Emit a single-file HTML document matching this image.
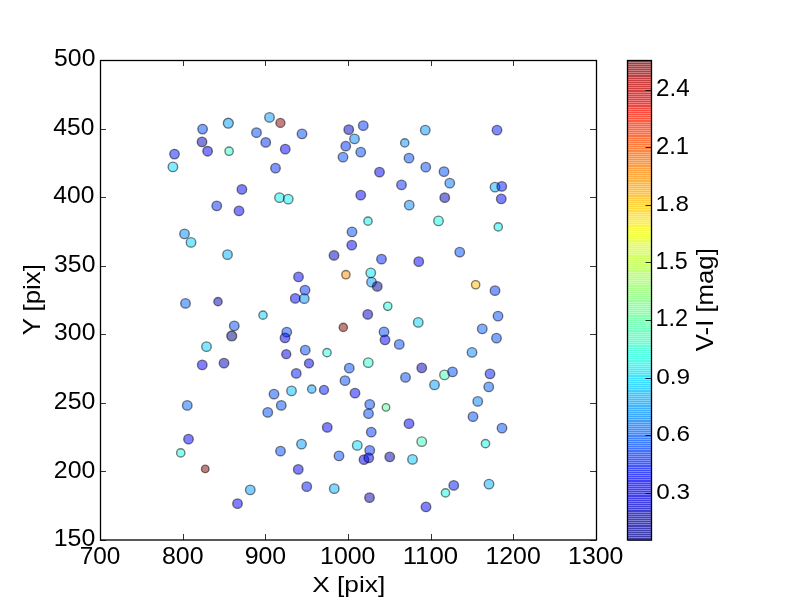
<!DOCTYPE html><html><head><meta charset="utf-8"><style>html,body{margin:0;padding:0;background:#fff;width:800px;height:600px;overflow:hidden}svg{display:block;will-change:transform}text{font-family:"Liberation Sans",sans-serif;fill:#000}</style></head><body>
<svg width="800" height="600" viewBox="0 0 800 600">
<rect x="0" y="0" width="800" height="600" fill="#fff"/>
<g fill-opacity="0.50" stroke="#000" stroke-opacity="0.50" stroke-width="1.39">
<circle cx="174.50" cy="154.10" r="4.75" fill="#0019ff"/><circle cx="172.90" cy="166.90" r="4.75" fill="#00dbff"/><circle cx="202.60" cy="129.10" r="4.75" fill="#004dff"/><circle cx="202.00" cy="141.90" r="4.75" fill="#0000b9"/><circle cx="207.60" cy="151.20" r="4.75" fill="#0000ff"/><circle cx="228.30" cy="123.20" r="4.96" fill="#009eff"/><circle cx="229.10" cy="151.20" r="4.15" fill="#29ffce"/><circle cx="241.90" cy="189.40" r="4.75" fill="#0000f3"/><circle cx="269.50" cy="117.40" r="4.75" fill="#009eff"/><circle cx="280.40" cy="122.90" r="4.50" fill="#8b0000"/><circle cx="256.50" cy="132.65" r="4.75" fill="#004dff"/><circle cx="302.00" cy="133.90" r="4.75" fill="#004dff"/><circle cx="265.75" cy="142.40" r="4.75" fill="#002eff"/><circle cx="285.25" cy="149.15" r="4.75" fill="#0000ff"/><circle cx="275.50" cy="168.15" r="4.75" fill="#002eff"/><circle cx="279.50" cy="197.65" r="4.75" fill="#08f0ef"/><circle cx="288.25" cy="199.15" r="4.75" fill="#08f0ef"/><circle cx="348.75" cy="129.65" r="4.75" fill="#0000d1"/><circle cx="363.25" cy="125.65" r="4.75" fill="#0038ff"/><circle cx="354.50" cy="138.90" r="4.75" fill="#008aff"/><circle cx="345.75" cy="146.15" r="4.75" fill="#002eff"/><circle cx="360.75" cy="152.15" r="4.75" fill="#004dff"/><circle cx="343.00" cy="157.15" r="4.75" fill="#004dff"/><circle cx="379.50" cy="172.15" r="4.75" fill="#0000f3"/><circle cx="360.75" cy="195.15" r="4.75" fill="#0000ff"/><circle cx="425.25" cy="130.15" r="4.75" fill="#0094ff"/><circle cx="404.75" cy="142.90" r="4.15" fill="#0094ff"/><circle cx="409.00" cy="158.15" r="4.75" fill="#004dff"/><circle cx="425.75" cy="167.15" r="4.75" fill="#004dff"/><circle cx="444.00" cy="171.65" r="4.75" fill="#004dff"/><circle cx="449.75" cy="183.15" r="4.75" fill="#0075ff"/><circle cx="401.50" cy="184.90" r="4.75" fill="#002eff"/><circle cx="444.75" cy="197.65" r="4.75" fill="#0000b9"/><circle cx="497.00" cy="130.15" r="4.75" fill="#0019ff"/><circle cx="495.00" cy="187.15" r="4.75" fill="#00b2ff"/><circle cx="501.75" cy="186.40" r="4.75" fill="#0019ff"/><circle cx="501.25" cy="198.90" r="4.75" fill="#0005ff"/><circle cx="216.75" cy="205.90" r="4.75" fill="#002eff"/><circle cx="239.00" cy="210.90" r="4.75" fill="#0000ff"/><circle cx="184.50" cy="233.90" r="4.75" fill="#008aff"/><circle cx="191.00" cy="242.40" r="4.75" fill="#00d1ff"/><circle cx="227.50" cy="254.65" r="4.75" fill="#00b2ff"/><circle cx="185.50" cy="303.40" r="4.75" fill="#0061ff"/><circle cx="218.00" cy="301.65" r="4.15" fill="#0000b9"/><circle cx="234.25" cy="325.90" r="4.75" fill="#004dff"/><circle cx="231.75" cy="335.90" r="4.96" fill="#000080"/><circle cx="368.00" cy="221.15" r="4.15" fill="#08f0ef"/><circle cx="352.00" cy="231.90" r="4.75" fill="#004dff"/><circle cx="351.75" cy="245.15" r="4.75" fill="#0005ff"/><circle cx="334.00" cy="255.40" r="4.75" fill="#0000c5"/><circle cx="381.50" cy="259.15" r="4.75" fill="#0024ff"/><circle cx="298.50" cy="276.90" r="4.75" fill="#0005ff"/><circle cx="345.90" cy="274.70" r="4.15" fill="#ff8e00"/><circle cx="370.75" cy="272.90" r="4.75" fill="#00e5f7"/><circle cx="371.50" cy="282.15" r="4.75" fill="#009eff"/><circle cx="377.25" cy="286.40" r="4.75" fill="#0000a2"/><circle cx="305.00" cy="290.15" r="4.75" fill="#002eff"/><circle cx="295.25" cy="298.40" r="4.75" fill="#0005ff"/><circle cx="304.25" cy="298.65" r="4.75" fill="#0094ff"/><circle cx="263.00" cy="315.15" r="4.15" fill="#00d1ff"/><circle cx="367.75" cy="314.40" r="4.75" fill="#0000d1"/><circle cx="343.30" cy="327.40" r="4.15" fill="#8b0000"/><circle cx="286.75" cy="332.15" r="4.75" fill="#004dff"/><circle cx="285.00" cy="337.90" r="4.75" fill="#0000f3"/><circle cx="409.25" cy="205.15" r="4.75" fill="#008aff"/><circle cx="438.50" cy="220.90" r="4.75" fill="#10fae6"/><circle cx="498.25" cy="226.90" r="4.15" fill="#08f0ef"/><circle cx="418.75" cy="261.65" r="4.75" fill="#0000ff"/><circle cx="459.75" cy="252.15" r="4.75" fill="#004dff"/><circle cx="475.65" cy="284.75" r="4.15" fill="#ffbd00"/><circle cx="495.00" cy="290.65" r="4.75" fill="#0038ff"/><circle cx="387.75" cy="306.30" r="4.15" fill="#19ffde"/><circle cx="418.25" cy="322.40" r="4.75" fill="#00d1ff"/><circle cx="498.00" cy="316.15" r="4.75" fill="#004dff"/><circle cx="482.25" cy="328.90" r="4.75" fill="#0061ff"/><circle cx="496.50" cy="338.15" r="4.75" fill="#004dff"/><circle cx="384.00" cy="331.90" r="4.75" fill="#004dff"/><circle cx="385.00" cy="339.90" r="4.75" fill="#0000ff"/><circle cx="206.50" cy="346.65" r="4.75" fill="#00d1ff"/><circle cx="202.25" cy="364.90" r="4.75" fill="#0000ff"/><circle cx="224.00" cy="363.15" r="4.75" fill="#0000c5"/><circle cx="187.25" cy="405.40" r="4.75" fill="#006bff"/><circle cx="188.50" cy="439.15" r="4.75" fill="#0000ff"/><circle cx="180.75" cy="452.90" r="4.15" fill="#19ffde"/><circle cx="205.25" cy="468.90" r="3.76" fill="#8b0000"/><circle cx="305.25" cy="350.15" r="4.75" fill="#004dff"/><circle cx="327.00" cy="352.65" r="4.15" fill="#19ffde"/><circle cx="286.25" cy="354.15" r="4.50" fill="#0000e8"/><circle cx="309.00" cy="363.40" r="4.50" fill="#0000e8"/><circle cx="368.25" cy="362.65" r="4.75" fill="#29ffce"/><circle cx="349.25" cy="368.15" r="4.75" fill="#004dff"/><circle cx="296.25" cy="373.40" r="4.75" fill="#0019ff"/><circle cx="345.00" cy="380.65" r="4.75" fill="#004dff"/><circle cx="291.50" cy="390.90" r="4.75" fill="#00bdff"/><circle cx="311.75" cy="389.15" r="4.15" fill="#009eff"/><circle cx="324.00" cy="389.90" r="4.50" fill="#0019ff"/><circle cx="274.00" cy="394.15" r="4.75" fill="#004dff"/><circle cx="355.00" cy="393.15" r="4.75" fill="#0005ff"/><circle cx="281.25" cy="405.40" r="4.75" fill="#004dff"/><circle cx="267.75" cy="412.40" r="4.75" fill="#004dff"/><circle cx="369.75" cy="404.40" r="4.75" fill="#004dff"/><circle cx="368.50" cy="413.65" r="4.75" fill="#004dff"/><circle cx="327.25" cy="427.40" r="4.75" fill="#0000ff"/><circle cx="371.25" cy="432.15" r="4.75" fill="#0038ff"/><circle cx="301.50" cy="444.15" r="4.75" fill="#009eff"/><circle cx="280.50" cy="451.15" r="4.75" fill="#004dff"/><circle cx="357.25" cy="445.40" r="4.75" fill="#00dbff"/><circle cx="339.00" cy="455.90" r="4.75" fill="#004dff"/><circle cx="369.75" cy="450.40" r="4.75" fill="#0038ff"/><circle cx="364.00" cy="459.65" r="4.75" fill="#0000ff"/><circle cx="368.75" cy="457.90" r="4.75" fill="#0000f3"/><circle cx="298.25" cy="469.40" r="4.75" fill="#0000ff"/><circle cx="399.25" cy="344.40" r="4.75" fill="#004dff"/><circle cx="472.00" cy="352.40" r="4.75" fill="#008aff"/><circle cx="421.75" cy="367.90" r="4.75" fill="#0000c5"/><circle cx="405.50" cy="377.40" r="4.75" fill="#004dff"/><circle cx="444.50" cy="374.90" r="4.75" fill="#42ffb5"/><circle cx="452.50" cy="371.90" r="4.75" fill="#004dff"/><circle cx="434.50" cy="384.90" r="4.75" fill="#009eff"/><circle cx="490.00" cy="373.90" r="4.75" fill="#0019ff"/><circle cx="488.75" cy="386.90" r="4.75" fill="#0061ff"/><circle cx="386.00" cy="407.40" r="3.76" fill="#5aff9c"/><circle cx="477.75" cy="401.40" r="4.75" fill="#0080ff"/><circle cx="473.00" cy="416.65" r="4.75" fill="#004dff"/><circle cx="502.00" cy="428.15" r="4.75" fill="#004dff"/><circle cx="409.00" cy="423.65" r="4.75" fill="#0000ff"/><circle cx="421.75" cy="441.65" r="4.75" fill="#3affbd"/><circle cx="485.50" cy="443.65" r="4.15" fill="#10fae6"/><circle cx="389.75" cy="456.90" r="4.75" fill="#0000ae"/><circle cx="412.50" cy="459.40" r="4.75" fill="#00c7ff"/><circle cx="237.50" cy="503.65" r="4.75" fill="#0000ff"/><circle cx="250.25" cy="489.90" r="4.75" fill="#009eff"/><circle cx="306.75" cy="486.65" r="4.75" fill="#0019ff"/><circle cx="334.25" cy="488.65" r="4.75" fill="#00b2ff"/><circle cx="369.50" cy="497.65" r="4.75" fill="#0000b9"/><circle cx="453.75" cy="485.40" r="4.75" fill="#0019ff"/><circle cx="445.50" cy="492.90" r="4.15" fill="#10fae6"/><circle cx="489.00" cy="484.15" r="4.75" fill="#00b2ff"/><circle cx="426.00" cy="506.90" r="4.75" fill="#0005ff"/>
</g>
<rect x="100.5" y="60.5" width="496" height="479.5" fill="none" stroke="#000" stroke-width="1.3"/>
<path d="M100.5 540V534M100.5 60V66M183.5 540V534M183.5 60V66M265.5 540V534M265.5 60V66M348.5 540V534M348.5 60V66M431.5 540V534M431.5 60V66M513.5 540V534M513.5 60V66M596.5 540V534M596.5 60V66M100 540.5H106M596 540.5H590M100 471.5H106M596 471.5H590M100 403.5H106M596 403.5H590M100 334.5H106M596 334.5H590M100 266.5H106M596 266.5H590M100 197.5H106M596 197.5H590M100 129.5H106M596 129.5H590M100 60.5H106M596 60.5H590" stroke="#000" stroke-width="0.8" fill="none"/>
<text transform="translate(53.73,546.12) scale(1.0348,1)" font-size="24.11">150</text>
<text transform="translate(53.85,477.55) scale(1.0329,1)" font-size="24.11">200</text>
<text transform="translate(53.85,408.98) scale(1.0329,1)" font-size="24.11">250</text>
<text transform="translate(54.11,340.40) scale(1.0264,1)" font-size="24.11">300</text>
<text transform="translate(54.11,271.83) scale(1.0264,1)" font-size="24.11">350</text>
<text transform="translate(53.28,203.26) scale(1.0206,1)" font-size="24.11">400</text>
<text transform="translate(53.28,134.69) scale(1.0206,1)" font-size="24.11">450</text>
<text transform="translate(54.11,66.12) scale(1.0264,1)" font-size="24.11">500</text>
<text transform="translate(79.73,563.76) scale(1.0177,1)" font-size="23.94">700</text>
<text transform="translate(162.00,563.76) scale(1.0408,1)" font-size="23.94">800</text>
<text transform="translate(244.66,563.76) scale(1.0408,1)" font-size="23.94">900</text>
<text transform="translate(320.08,563.76) scale(1.0392,1)" font-size="23.94">1000</text>
<text transform="translate(402.68,563.76) scale(1.0775,1)" font-size="23.94">1100</text>
<text transform="translate(485.42,563.76) scale(1.0392,1)" font-size="23.94">1200</text>
<text transform="translate(568.08,563.76) scale(1.0392,1)" font-size="23.94">1300</text>
<text transform="translate(312.24,591.92) scale(1.1542,1)" font-size="22.78">X [pix]</text>
<text transform="translate(39.76,335.34) rotate(-90) scale(1.0956,1)" font-size="23.53">Y [pix]</text>
<text transform="translate(712.65,351.13) rotate(-90) scale(1.1139,1)" font-size="23.10">V-I [mag]</text>
<g fill-opacity="0.50" shape-rendering="crispEdges"><rect x="627.50" y="537.625" width="24.00" height="2.875" fill="#000082"/><rect x="627.50" y="535.750" width="24.00" height="2.875" fill="#000086"/><rect x="627.50" y="533.875" width="24.00" height="2.875" fill="#00008b"/><rect x="627.50" y="532.000" width="24.00" height="2.875" fill="#00008f"/><rect x="627.50" y="530.125" width="24.00" height="2.875" fill="#000094"/><rect x="627.50" y="528.250" width="24.00" height="2.875" fill="#000098"/><rect x="627.50" y="526.375" width="24.00" height="2.875" fill="#00009d"/><rect x="627.50" y="524.500" width="24.00" height="2.875" fill="#0000a1"/><rect x="627.50" y="522.625" width="24.00" height="2.875" fill="#0000a6"/><rect x="627.50" y="520.750" width="24.00" height="2.875" fill="#0000ab"/><rect x="627.50" y="518.875" width="24.00" height="2.875" fill="#0000af"/><rect x="627.50" y="517.000" width="24.00" height="2.875" fill="#0000b4"/><rect x="627.50" y="515.125" width="24.00" height="2.875" fill="#0000b8"/><rect x="627.50" y="513.250" width="24.00" height="2.875" fill="#0000bd"/><rect x="627.50" y="511.375" width="24.00" height="2.875" fill="#0000c1"/><rect x="627.50" y="509.500" width="24.00" height="2.875" fill="#0000c6"/><rect x="627.50" y="507.625" width="24.00" height="2.875" fill="#0000ca"/><rect x="627.50" y="505.750" width="24.00" height="2.875" fill="#0000cf"/><rect x="627.50" y="503.875" width="24.00" height="2.875" fill="#0000d3"/><rect x="627.50" y="502.000" width="24.00" height="2.875" fill="#0000d8"/><rect x="627.50" y="500.125" width="24.00" height="2.875" fill="#0000dc"/><rect x="627.50" y="498.250" width="24.00" height="2.875" fill="#0000e1"/><rect x="627.50" y="496.375" width="24.00" height="2.875" fill="#0000e5"/><rect x="627.50" y="494.500" width="24.00" height="2.875" fill="#0000ea"/><rect x="627.50" y="492.625" width="24.00" height="2.875" fill="#0000ee"/><rect x="627.50" y="490.750" width="24.00" height="2.875" fill="#0000f3"/><rect x="627.50" y="488.875" width="24.00" height="2.875" fill="#0000f7"/><rect x="627.50" y="487.000" width="24.00" height="2.875" fill="#0000fc"/><rect x="627.50" y="485.125" width="24.00" height="2.875" fill="#0000ff"/><rect x="627.50" y="483.250" width="24.00" height="2.875" fill="#0000ff"/><rect x="627.50" y="481.375" width="24.00" height="2.875" fill="#0000ff"/><rect x="627.50" y="479.500" width="24.00" height="2.875" fill="#0000ff"/><rect x="627.50" y="477.625" width="24.00" height="2.875" fill="#0002ff"/><rect x="627.50" y="475.750" width="24.00" height="2.875" fill="#0006ff"/><rect x="627.50" y="473.875" width="24.00" height="2.875" fill="#000aff"/><rect x="627.50" y="472.000" width="24.00" height="2.875" fill="#000eff"/><rect x="627.50" y="470.125" width="24.00" height="2.875" fill="#0012ff"/><rect x="627.50" y="468.250" width="24.00" height="2.875" fill="#0016ff"/><rect x="627.50" y="466.375" width="24.00" height="2.875" fill="#001aff"/><rect x="627.50" y="464.500" width="24.00" height="2.875" fill="#001eff"/><rect x="627.50" y="462.625" width="24.00" height="2.875" fill="#0022ff"/><rect x="627.50" y="460.750" width="24.00" height="2.875" fill="#0026ff"/><rect x="627.50" y="458.875" width="24.00" height="2.875" fill="#002aff"/><rect x="627.50" y="457.000" width="24.00" height="2.875" fill="#002eff"/><rect x="627.50" y="455.125" width="24.00" height="2.875" fill="#0032ff"/><rect x="627.50" y="453.250" width="24.00" height="2.875" fill="#0036ff"/><rect x="627.50" y="451.375" width="24.00" height="2.875" fill="#003aff"/><rect x="627.50" y="449.500" width="24.00" height="2.875" fill="#003eff"/><rect x="627.50" y="447.625" width="24.00" height="2.875" fill="#0042ff"/><rect x="627.50" y="445.750" width="24.00" height="2.875" fill="#0046ff"/><rect x="627.50" y="443.875" width="24.00" height="2.875" fill="#004aff"/><rect x="627.50" y="442.000" width="24.00" height="2.875" fill="#004eff"/><rect x="627.50" y="440.125" width="24.00" height="2.875" fill="#0052ff"/><rect x="627.50" y="438.250" width="24.00" height="2.875" fill="#0056ff"/><rect x="627.50" y="436.375" width="24.00" height="2.875" fill="#005aff"/><rect x="627.50" y="434.500" width="24.00" height="2.875" fill="#005eff"/><rect x="627.50" y="432.625" width="24.00" height="2.875" fill="#0062ff"/><rect x="627.50" y="430.750" width="24.00" height="2.875" fill="#0066ff"/><rect x="627.50" y="428.875" width="24.00" height="2.875" fill="#006aff"/><rect x="627.50" y="427.000" width="24.00" height="2.875" fill="#006eff"/><rect x="627.50" y="425.125" width="24.00" height="2.875" fill="#0072ff"/><rect x="627.50" y="423.250" width="24.00" height="2.875" fill="#0076ff"/><rect x="627.50" y="421.375" width="24.00" height="2.875" fill="#007aff"/><rect x="627.50" y="419.500" width="24.00" height="2.875" fill="#007eff"/><rect x="627.50" y="417.625" width="24.00" height="2.875" fill="#0081ff"/><rect x="627.50" y="415.750" width="24.00" height="2.875" fill="#0085ff"/><rect x="627.50" y="413.875" width="24.00" height="2.875" fill="#0089ff"/><rect x="627.50" y="412.000" width="24.00" height="2.875" fill="#008dff"/><rect x="627.50" y="410.125" width="24.00" height="2.875" fill="#0091ff"/><rect x="627.50" y="408.250" width="24.00" height="2.875" fill="#0095ff"/><rect x="627.50" y="406.375" width="24.00" height="2.875" fill="#0099ff"/><rect x="627.50" y="404.500" width="24.00" height="2.875" fill="#009dff"/><rect x="627.50" y="402.625" width="24.00" height="2.875" fill="#00a1ff"/><rect x="627.50" y="400.750" width="24.00" height="2.875" fill="#00a5ff"/><rect x="627.50" y="398.875" width="24.00" height="2.875" fill="#00a9ff"/><rect x="627.50" y="397.000" width="24.00" height="2.875" fill="#00adff"/><rect x="627.50" y="395.125" width="24.00" height="2.875" fill="#00b1ff"/><rect x="627.50" y="393.250" width="24.00" height="2.875" fill="#00b5ff"/><rect x="627.50" y="391.375" width="24.00" height="2.875" fill="#00b9ff"/><rect x="627.50" y="389.500" width="24.00" height="2.875" fill="#00bdff"/><rect x="627.50" y="387.625" width="24.00" height="2.875" fill="#00c1ff"/><rect x="627.50" y="385.750" width="24.00" height="2.875" fill="#00c5ff"/><rect x="627.50" y="383.875" width="24.00" height="2.875" fill="#00c9ff"/><rect x="627.50" y="382.000" width="24.00" height="2.875" fill="#00cdff"/><rect x="627.50" y="380.125" width="24.00" height="2.875" fill="#00d1ff"/><rect x="627.50" y="378.250" width="24.00" height="2.875" fill="#00d5ff"/><rect x="627.50" y="376.375" width="24.00" height="2.875" fill="#00d9ff"/><rect x="627.50" y="374.500" width="24.00" height="2.875" fill="#00ddfe"/><rect x="627.50" y="372.625" width="24.00" height="2.875" fill="#00e1fa"/><rect x="627.50" y="370.750" width="24.00" height="2.875" fill="#00e5f7"/><rect x="627.50" y="368.875" width="24.00" height="2.875" fill="#03e9f4"/><rect x="627.50" y="367.000" width="24.00" height="2.875" fill="#06edf1"/><rect x="627.50" y="365.125" width="24.00" height="2.875" fill="#09f1ed"/><rect x="627.50" y="363.250" width="24.00" height="2.875" fill="#0df5ea"/><rect x="627.50" y="361.375" width="24.00" height="2.875" fill="#10f9e7"/><rect x="627.50" y="359.500" width="24.00" height="2.875" fill="#13fde4"/><rect x="627.50" y="357.625" width="24.00" height="2.875" fill="#16ffe1"/><rect x="627.50" y="355.750" width="24.00" height="2.875" fill="#19ffdd"/><rect x="627.50" y="353.875" width="24.00" height="2.875" fill="#1dffda"/><rect x="627.50" y="352.000" width="24.00" height="2.875" fill="#20ffd7"/><rect x="627.50" y="350.125" width="24.00" height="2.875" fill="#23ffd4"/><rect x="627.50" y="348.250" width="24.00" height="2.875" fill="#26ffd1"/><rect x="627.50" y="346.375" width="24.00" height="2.875" fill="#29ffcd"/><rect x="627.50" y="344.500" width="24.00" height="2.875" fill="#2dffca"/><rect x="627.50" y="342.625" width="24.00" height="2.875" fill="#30ffc7"/><rect x="627.50" y="340.750" width="24.00" height="2.875" fill="#33ffc4"/><rect x="627.50" y="338.875" width="24.00" height="2.875" fill="#36ffc0"/><rect x="627.50" y="337.000" width="24.00" height="2.875" fill="#3affbd"/><rect x="627.50" y="335.125" width="24.00" height="2.875" fill="#3dffba"/><rect x="627.50" y="333.250" width="24.00" height="2.875" fill="#40ffb7"/><rect x="627.50" y="331.375" width="24.00" height="2.875" fill="#43ffb4"/><rect x="627.50" y="329.500" width="24.00" height="2.875" fill="#46ffb0"/><rect x="627.50" y="327.625" width="24.00" height="2.875" fill="#4affad"/><rect x="627.50" y="325.750" width="24.00" height="2.875" fill="#4dffaa"/><rect x="627.50" y="323.875" width="24.00" height="2.875" fill="#50ffa7"/><rect x="627.50" y="322.000" width="24.00" height="2.875" fill="#53ffa4"/><rect x="627.50" y="320.125" width="24.00" height="2.875" fill="#56ffa0"/><rect x="627.50" y="318.250" width="24.00" height="2.875" fill="#5aff9d"/><rect x="627.50" y="316.375" width="24.00" height="2.875" fill="#5dff9a"/><rect x="627.50" y="314.500" width="24.00" height="2.875" fill="#60ff97"/><rect x="627.50" y="312.625" width="24.00" height="2.875" fill="#63ff93"/><rect x="627.50" y="310.750" width="24.00" height="2.875" fill="#67ff90"/><rect x="627.50" y="308.875" width="24.00" height="2.875" fill="#6aff8d"/><rect x="627.50" y="307.000" width="24.00" height="2.875" fill="#6dff8a"/><rect x="627.50" y="305.125" width="24.00" height="2.875" fill="#70ff87"/><rect x="627.50" y="303.250" width="24.00" height="2.875" fill="#73ff83"/><rect x="627.50" y="301.375" width="24.00" height="2.875" fill="#77ff80"/><rect x="627.50" y="299.500" width="24.00" height="2.875" fill="#7aff7d"/><rect x="627.50" y="297.625" width="24.00" height="2.875" fill="#7dff7a"/><rect x="627.50" y="295.750" width="24.00" height="2.875" fill="#80ff77"/><rect x="627.50" y="293.875" width="24.00" height="2.875" fill="#83ff73"/><rect x="627.50" y="292.000" width="24.00" height="2.875" fill="#87ff70"/><rect x="627.50" y="290.125" width="24.00" height="2.875" fill="#8aff6d"/><rect x="627.50" y="288.250" width="24.00" height="2.875" fill="#8dff6a"/><rect x="627.50" y="286.375" width="24.00" height="2.875" fill="#90ff67"/><rect x="627.50" y="284.500" width="24.00" height="2.875" fill="#93ff63"/><rect x="627.50" y="282.625" width="24.00" height="2.875" fill="#97ff60"/><rect x="627.50" y="280.750" width="24.00" height="2.875" fill="#9aff5d"/><rect x="627.50" y="278.875" width="24.00" height="2.875" fill="#9dff5a"/><rect x="627.50" y="277.000" width="24.00" height="2.875" fill="#a0ff56"/><rect x="627.50" y="275.125" width="24.00" height="2.875" fill="#a4ff53"/><rect x="627.50" y="273.250" width="24.00" height="2.875" fill="#a7ff50"/><rect x="627.50" y="271.375" width="24.00" height="2.875" fill="#aaff4d"/><rect x="627.50" y="269.500" width="24.00" height="2.875" fill="#adff4a"/><rect x="627.50" y="267.625" width="24.00" height="2.875" fill="#b0ff46"/><rect x="627.50" y="265.750" width="24.00" height="2.875" fill="#b4ff43"/><rect x="627.50" y="263.875" width="24.00" height="2.875" fill="#b7ff40"/><rect x="627.50" y="262.000" width="24.00" height="2.875" fill="#baff3d"/><rect x="627.50" y="260.125" width="24.00" height="2.875" fill="#bdff3a"/><rect x="627.50" y="258.250" width="24.00" height="2.875" fill="#c0ff36"/><rect x="627.50" y="256.375" width="24.00" height="2.875" fill="#c4ff33"/><rect x="627.50" y="254.500" width="24.00" height="2.875" fill="#c7ff30"/><rect x="627.50" y="252.625" width="24.00" height="2.875" fill="#caff2d"/><rect x="627.50" y="250.750" width="24.00" height="2.875" fill="#cdff29"/><rect x="627.50" y="248.875" width="24.00" height="2.875" fill="#d1ff26"/><rect x="627.50" y="247.000" width="24.00" height="2.875" fill="#d4ff23"/><rect x="627.50" y="245.125" width="24.00" height="2.875" fill="#d7ff20"/><rect x="627.50" y="243.250" width="24.00" height="2.875" fill="#daff1d"/><rect x="627.50" y="241.375" width="24.00" height="2.875" fill="#ddff19"/><rect x="627.50" y="239.500" width="24.00" height="2.875" fill="#e1ff16"/><rect x="627.50" y="237.625" width="24.00" height="2.875" fill="#e4ff13"/><rect x="627.50" y="235.750" width="24.00" height="2.875" fill="#e7ff10"/><rect x="627.50" y="233.875" width="24.00" height="2.875" fill="#eaff0d"/><rect x="627.50" y="232.000" width="24.00" height="2.875" fill="#edff09"/><rect x="627.50" y="230.125" width="24.00" height="2.875" fill="#f1fd06"/><rect x="627.50" y="228.250" width="24.00" height="2.875" fill="#f4f903"/><rect x="627.50" y="226.375" width="24.00" height="2.875" fill="#f7f500"/><rect x="627.50" y="224.500" width="24.00" height="2.875" fill="#faf100"/><rect x="627.50" y="222.625" width="24.00" height="2.875" fill="#feee00"/><rect x="627.50" y="220.750" width="24.00" height="2.875" fill="#ffea00"/><rect x="627.50" y="218.875" width="24.00" height="2.875" fill="#ffe600"/><rect x="627.50" y="217.000" width="24.00" height="2.875" fill="#ffe300"/><rect x="627.50" y="215.125" width="24.00" height="2.875" fill="#ffdf00"/><rect x="627.50" y="213.250" width="24.00" height="2.875" fill="#ffdb00"/><rect x="627.50" y="211.375" width="24.00" height="2.875" fill="#ffd800"/><rect x="627.50" y="209.500" width="24.00" height="2.875" fill="#ffd400"/><rect x="627.50" y="207.625" width="24.00" height="2.875" fill="#ffd000"/><rect x="627.50" y="205.750" width="24.00" height="2.875" fill="#ffcd00"/><rect x="627.50" y="203.875" width="24.00" height="2.875" fill="#ffc900"/><rect x="627.50" y="202.000" width="24.00" height="2.875" fill="#ffc500"/><rect x="627.50" y="200.125" width="24.00" height="2.875" fill="#ffc200"/><rect x="627.50" y="198.250" width="24.00" height="2.875" fill="#ffbe00"/><rect x="627.50" y="196.375" width="24.00" height="2.875" fill="#ffba00"/><rect x="627.50" y="194.500" width="24.00" height="2.875" fill="#ffb600"/><rect x="627.50" y="192.625" width="24.00" height="2.875" fill="#ffb300"/><rect x="627.50" y="190.750" width="24.00" height="2.875" fill="#ffaf00"/><rect x="627.50" y="188.875" width="24.00" height="2.875" fill="#ffab00"/><rect x="627.50" y="187.000" width="24.00" height="2.875" fill="#ffa800"/><rect x="627.50" y="185.125" width="24.00" height="2.875" fill="#ffa400"/><rect x="627.50" y="183.250" width="24.00" height="2.875" fill="#ffa000"/><rect x="627.50" y="181.375" width="24.00" height="2.875" fill="#ff9d00"/><rect x="627.50" y="179.500" width="24.00" height="2.875" fill="#ff9900"/><rect x="627.50" y="177.625" width="24.00" height="2.875" fill="#ff9500"/><rect x="627.50" y="175.750" width="24.00" height="2.875" fill="#ff9200"/><rect x="627.50" y="173.875" width="24.00" height="2.875" fill="#ff8e00"/><rect x="627.50" y="172.000" width="24.00" height="2.875" fill="#ff8a00"/><rect x="627.50" y="170.125" width="24.00" height="2.875" fill="#ff8700"/><rect x="627.50" y="168.250" width="24.00" height="2.875" fill="#ff8300"/><rect x="627.50" y="166.375" width="24.00" height="2.875" fill="#ff7f00"/><rect x="627.50" y="164.500" width="24.00" height="2.875" fill="#ff7b00"/><rect x="627.50" y="162.625" width="24.00" height="2.875" fill="#ff7800"/><rect x="627.50" y="160.750" width="24.00" height="2.875" fill="#ff7400"/><rect x="627.50" y="158.875" width="24.00" height="2.875" fill="#ff7000"/><rect x="627.50" y="157.000" width="24.00" height="2.875" fill="#ff6d00"/><rect x="627.50" y="155.125" width="24.00" height="2.875" fill="#ff6900"/><rect x="627.50" y="153.250" width="24.00" height="2.875" fill="#ff6500"/><rect x="627.50" y="151.375" width="24.00" height="2.875" fill="#ff6200"/><rect x="627.50" y="149.500" width="24.00" height="2.875" fill="#ff5e00"/><rect x="627.50" y="147.625" width="24.00" height="2.875" fill="#ff5a00"/><rect x="627.50" y="145.750" width="24.00" height="2.875" fill="#ff5700"/><rect x="627.50" y="143.875" width="24.00" height="2.875" fill="#ff5300"/><rect x="627.50" y="142.000" width="24.00" height="2.875" fill="#ff4f00"/><rect x="627.50" y="140.125" width="24.00" height="2.875" fill="#ff4b00"/><rect x="627.50" y="138.250" width="24.00" height="2.875" fill="#ff4800"/><rect x="627.50" y="136.375" width="24.00" height="2.875" fill="#ff4400"/><rect x="627.50" y="134.500" width="24.00" height="2.875" fill="#ff4000"/><rect x="627.50" y="132.625" width="24.00" height="2.875" fill="#ff3d00"/><rect x="627.50" y="130.750" width="24.00" height="2.875" fill="#ff3900"/><rect x="627.50" y="128.875" width="24.00" height="2.875" fill="#ff3500"/><rect x="627.50" y="127.000" width="24.00" height="2.875" fill="#ff3200"/><rect x="627.50" y="125.125" width="24.00" height="2.875" fill="#ff2e00"/><rect x="627.50" y="123.250" width="24.00" height="2.875" fill="#ff2a00"/><rect x="627.50" y="121.375" width="24.00" height="2.875" fill="#ff2700"/><rect x="627.50" y="119.500" width="24.00" height="2.875" fill="#ff2300"/><rect x="627.50" y="117.625" width="24.00" height="2.875" fill="#ff1f00"/><rect x="627.50" y="115.750" width="24.00" height="2.875" fill="#ff1c00"/><rect x="627.50" y="113.875" width="24.00" height="2.875" fill="#ff1800"/><rect x="627.50" y="112.000" width="24.00" height="2.875" fill="#ff1400"/><rect x="627.50" y="110.125" width="24.00" height="2.875" fill="#fc1000"/><rect x="627.50" y="108.250" width="24.00" height="2.875" fill="#f70d00"/><rect x="627.50" y="106.375" width="24.00" height="2.875" fill="#f30900"/><rect x="627.50" y="104.500" width="24.00" height="2.875" fill="#ee0500"/><rect x="627.50" y="102.625" width="24.00" height="2.875" fill="#ea0200"/><rect x="627.50" y="100.750" width="24.00" height="2.875" fill="#e50000"/><rect x="627.50" y="98.875" width="24.00" height="2.875" fill="#e10000"/><rect x="627.50" y="97.000" width="24.00" height="2.875" fill="#dc0000"/><rect x="627.50" y="95.125" width="24.00" height="2.875" fill="#d80000"/><rect x="627.50" y="93.250" width="24.00" height="2.875" fill="#d30000"/><rect x="627.50" y="91.375" width="24.00" height="2.875" fill="#cf0000"/><rect x="627.50" y="89.500" width="24.00" height="2.875" fill="#ca0000"/><rect x="627.50" y="87.625" width="24.00" height="2.875" fill="#c60000"/><rect x="627.50" y="85.750" width="24.00" height="2.875" fill="#c10000"/><rect x="627.50" y="83.875" width="24.00" height="2.875" fill="#bd0000"/><rect x="627.50" y="82.000" width="24.00" height="2.875" fill="#b80000"/><rect x="627.50" y="80.125" width="24.00" height="2.875" fill="#b40000"/><rect x="627.50" y="78.250" width="24.00" height="2.875" fill="#af0000"/><rect x="627.50" y="76.375" width="24.00" height="2.875" fill="#ab0000"/><rect x="627.50" y="74.500" width="24.00" height="2.875" fill="#a60000"/><rect x="627.50" y="72.625" width="24.00" height="2.875" fill="#a10000"/><rect x="627.50" y="70.750" width="24.00" height="2.875" fill="#9d0000"/><rect x="627.50" y="68.875" width="24.00" height="2.875" fill="#980000"/><rect x="627.50" y="67.000" width="24.00" height="2.875" fill="#940000"/><rect x="627.50" y="65.125" width="24.00" height="2.875" fill="#8f0000"/><rect x="627.50" y="63.250" width="24.00" height="2.875" fill="#8b0000"/><rect x="627.50" y="61.375" width="24.00" height="2.875" fill="#860000"/><rect x="627.50" y="59.500" width="24.00" height="2.875" fill="#820000"/></g>
<rect x="627.50" y="60.5" width="24.00" height="479.5" fill="none" stroke="#000" stroke-width="1.3"/>
<text transform="translate(656.23,499.04) scale(1.0646,1)" font-size="22.82">0.3</text>
<text transform="translate(656.23,441.44) scale(1.0646,1)" font-size="22.82">0.6</text>
<text transform="translate(656.22,383.84) scale(1.0687,1)" font-size="22.82">0.9</text>
<text transform="translate(655.44,326.47) scale(1.0145,1)" font-size="23.14">1.2</text>
<text transform="translate(655.45,268.64) scale(1.0065,1)" font-size="23.14">1.5</text>
<text transform="translate(655.39,211.04) scale(1.0594,1)" font-size="22.82">1.8</text>
<text transform="translate(656.01,153.67) scale(1.0283,1)" font-size="23.14">2.1</text>
<text transform="translate(655.99,96.07) scale(1.0456,1)" font-size="23.14">2.4</text>
<path d="M651.5 493.5H645.5M651.5 435.5H645.5M651.5 378.5H645.5M651.5 320.5H645.5M651.5 262.5H645.5M651.5 205.5H645.5M651.5 147.5H645.5M651.5 90.5H645.5" stroke="#000" stroke-width="0.8" fill="none"/>
</svg></body></html>
